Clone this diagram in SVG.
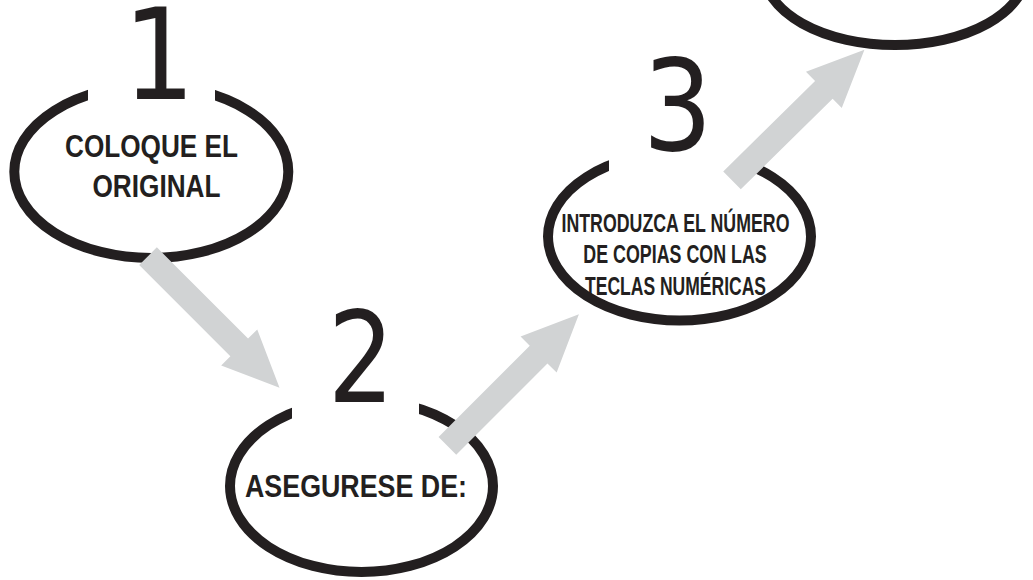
<svg xmlns="http://www.w3.org/2000/svg" width="1033" height="580" viewBox="0 0 1033 580">
  <style>
    .ring { fill: none; stroke: #231f20; stroke-width: 10; }
    .gap { fill: #ffffff; stroke: none; }
    .num { font-family: "DejaVu Sans", "Liberation Sans", sans-serif; font-size: 126px; fill: #231f20; text-anchor: middle; }
    .lbl { font-family: "Liberation Sans Narrow", "Liberation Sans", sans-serif; font-weight: bold; font-size: 31px; fill: #231f20; }
    .lbl-s { font-family: "Liberation Sans Narrow", "Liberation Sans", sans-serif; font-weight: bold; font-size: 25.5px; fill: #231f20; }
    .arrow { fill: #d1d3d4; stroke: none; }
  </style>
  <defs>
    <path id="arr" d="M0,-12.5 L129,-12.5 L129,-25.5 L186,0 L129,25.5 L129,12.5 L0,12.5 Z"/>
  </defs>
  <rect width="1033" height="580" fill="#ffffff"/>

  <g id="node-1">
    <ellipse class="ring" cx="151.3" cy="171.7" rx="137" ry="86.3"/>
    <rect class="gap" x="88" y="65" width="127" height="45"/>
    <text class="num" transform="translate(159,99) scale(0.9,1)" x="0" y="0">1</text>
    <text class="lbl" x="65" y="156.5" textLength="173" lengthAdjust="spacingAndGlyphs">COLOQUE EL</text>
    <text class="lbl" x="92.5" y="196.5" textLength="128" lengthAdjust="spacingAndGlyphs">ORIGINAL</text>
  </g>

  <g id="node-2">
    <ellipse class="ring" cx="361.5" cy="486" rx="131.5" ry="86"/>
    <rect class="gap" x="292" y="385" width="127" height="35"/>
    <text class="num" transform="translate(361,402) scale(0.83,1)" x="0" y="0">2</text>
    <text class="lbl" x="245" y="496.7" textLength="222" lengthAdjust="spacingAndGlyphs">ASEGURESE DE:</text>
  </g>

  <g id="node-3">
    <ellipse class="ring" cx="679.5" cy="236.5" rx="131.5" ry="84"/>
    <rect class="gap" x="609" y="135" width="139" height="40"/>
    <text class="num" transform="translate(677.5,150) scale(0.87,1)" x="0" y="0">3</text>
    <text class="lbl-s" x="561.5" y="231.7" textLength="228" lengthAdjust="spacingAndGlyphs">INTRODUZCA EL NÚMERO</text>
    <text class="lbl-s" x="583.3" y="263.3" textLength="183.4" lengthAdjust="spacingAndGlyphs">DE COPIAS CON LAS</text>
    <text class="lbl-s" x="585" y="295" textLength="181" lengthAdjust="spacingAndGlyphs">TECLAS NUMÉRICAS</text>
  </g>

  <g id="node-4">
    <ellipse class="ring" cx="895" cy="-29" rx="131.5" ry="74"/>
  </g>

  <g id="connectors">
    <use href="#arr" class="arrow" transform="translate(148,256.2) rotate(45)"/>
    <use href="#arr" class="arrow" transform="translate(447.4,445.8) rotate(-45)"/>
    <use href="#arr" class="arrow" transform="translate(732,180.4) rotate(-44.6)"/>
  </g>
</svg>
